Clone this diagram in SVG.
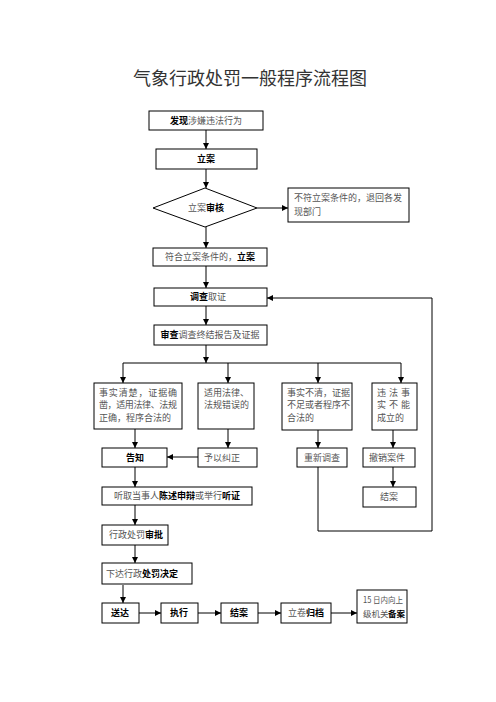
<svg xmlns="http://www.w3.org/2000/svg" width="496" height="702" viewBox="0 0 496 702">
<style>
.box{fill:#fff;stroke:#000;stroke-width:1}
.ln{fill:none;stroke:#000;stroke-width:1}
.ar{fill:none;stroke:#000;stroke-width:1;marker-end:url(#ah)}
text{font-family:"Noto Sans CJK SC","Noto Sans",sans-serif;font-size:9px;fill:#555}
.b{font-weight:bold;fill:#000}
.c{text-anchor:middle}
.s{font-size:8.5px}
.title{font-size:18px;fill:#333}
</style>
<defs>
<marker id="ah" markerUnits="userSpaceOnUse" markerWidth="8" markerHeight="8" refX="6" refY="3" orient="auto">
<path d="M0,0 L6,3 L0,6 Z" fill="#000"/>
</marker>
</defs>
<rect width="496" height="702" fill="#fff"/>
<text class="title c" x="250" y="85">气象行政处罚一般程序流程图</text>

<g id="connectors">
<path class="ar" d="M206 130 V149"/>
<path class="ar" d="M206 169 V188"/>
<path class="ar" d="M257 208 H288"/>
<path class="ar" d="M206 227 V248"/>
<path class="ar" d="M206 266 V288"/>
<path class="ar" d="M206 306 V325"/>
<path class="ar" d="M206 345 V363"/>
<path class="ln" d="M123 363 H401"/>
<path class="ar" d="M123 363 V383"/>
<path class="ar" d="M228 363 V383"/>
<path class="ar" d="M318 363 V383"/>
<path class="ar" d="M401 363 V383"/>
<path class="ar" d="M135 429 V448"/>
<path class="ar" d="M228 429 V448"/>
<path class="ar" d="M318 430 V448"/>
<path class="ar" d="M393 430 V448"/>
<path class="ar" d="M198 457 H167"/>
<path class="ar" d="M318 467 V531 H432 V298 H267"/>
<path class="ar" d="M393 467 V487"/>
<path class="ar" d="M135 467 V487"/>
<path class="ar" d="M135 505 V525"/>
<path class="ar" d="M135 545 V563"/>
<path class="ar" d="M123 585 V603"/>
<path class="ar" d="M139 613 H161"/>
<path class="ar" d="M198 613 H221"/>
<path class="ar" d="M258 613 H281"/>
<path class="ar" d="M331 613 H357"/>
</g>

<g id="n1"><rect class="box" x="149" y="111" width="114" height="19"/>
<text class="c" x="206" y="124"><tspan class="b">发现</tspan>涉嫌违法行为</text></g>
<g id="n2"><rect class="box" x="156" y="149" width="101" height="20"/>
<text class="c b" x="206" y="162">立案</text></g>
<g id="n3"><path class="box" d="M205 188 L257 208 L205 227 L153 208 Z"/>
<text class="c" x="206" y="211">立案<tspan class="b">审核</tspan></text></g>
<g id="n4"><rect class="box" x="288" y="188" width="121" height="34"/>
<text x="294" y="201" textLength="108">不符立案条件的，退回各发</text>
<text x="294" y="215">现部门</text></g>
<g id="n5"><rect class="box" x="153" y="248" width="114" height="18"/>
<text class="c" x="210" y="260">符合立案条件的，<tspan class="b">立案</tspan></text></g>
<g id="n6"><rect class="box" x="154" y="288" width="113" height="18"/>
<text class="c" x="208" y="300"><tspan class="b">调查</tspan>取证</text></g>
<g id="n7"><rect class="box" x="154" y="325" width="113" height="20"/>
<text class="c" x="210" y="338"><tspan class="b">审查</tspan>调查终结报告及证据</text></g>
<g id="n8"><rect class="box" x="94" y="383" width="88" height="46"/>
<text x="99" y="396" textLength="78">事实清楚，证据确</text>
<text x="99" y="408" textLength="78">凿，适用法律、法规</text>
<text x="99" y="421">正确，程序合法的</text></g>
<g id="n9"><rect class="box" x="198" y="383" width="56" height="46"/>
<text x="204" y="396">适用法律、</text>
<text x="204" y="408">法规错误的</text></g>
<g id="n10"><rect class="box" x="282" y="383" width="70" height="47"/>
<text x="287" y="396">事实不清，证据</text>
<text x="287" y="408">不足或者程序不</text>
<text x="287" y="421">合法的</text></g>
<g id="n11"><rect class="box" x="372" y="383" width="45" height="47"/>
<text x="377" y="396" textLength="33">违 法 事</text>
<text x="377" y="408" textLength="33">实 不 能</text>
<text x="377" y="421">成立的</text></g>
<g id="n12"><rect class="box" x="102" y="448" width="65" height="19"/>
<text class="c b" x="135" y="461">告知</text></g>
<g id="n13"><rect class="box" x="198" y="448" width="59" height="19"/>
<text x="204" y="461">予以纠正</text></g>
<g id="n14"><rect class="box" x="297" y="448" width="50" height="19"/>
<text class="c" x="322" y="461">重新调查</text></g>
<g id="n15"><rect class="box" x="363" y="448" width="52" height="19"/>
<text x="369" y="461">撤销案件</text></g>
<g id="n16"><rect class="box" x="363" y="487" width="53" height="20"/>
<text class="c" x="389" y="500">结案</text></g>
<g id="n17"><rect class="box" x="102" y="487" width="150" height="18"/>
<text class="c" x="177" y="499">听取当事人<tspan class="b">陈述申辩</tspan>或举行<tspan class="b">听证</tspan></text></g>
<g id="n18"><rect class="box" x="102" y="525" width="66" height="20"/>
<text x="109" y="538">行政处罚<tspan class="b">审批</tspan></text></g>
<g id="n19"><rect class="box" x="102" y="563" width="90" height="21"/>
<text x="106" y="577">下达行政<tspan class="b">处罚决定</tspan></text></g>
<g id="n20"><rect class="box" x="102" y="603" width="37" height="20"/>
<text class="c b" x="120" y="616">送达</text></g>
<g id="n21"><rect class="box" x="161" y="603" width="37" height="20"/>
<text class="c b" x="179" y="616">执行</text></g>
<g id="n22"><rect class="box" x="221" y="603" width="37" height="20"/>
<text class="c b" x="239" y="616">结案</text></g>
<g id="n23"><rect class="box" x="281" y="603" width="50" height="20"/>
<text class="c" x="306" y="616">立卷<tspan class="b">归档</tspan></text></g>
<g id="n24"><rect class="box" x="357" y="590" width="50" height="33"/>
<text class="s" x="363" y="603" textLength="40" lengthAdjust="spacingAndGlyphs">15 日内向上</text>
<text class="s" x="363" y="617">级机关</text>
<text class="s b" x="388" y="617">备案</text></g>
</svg>
